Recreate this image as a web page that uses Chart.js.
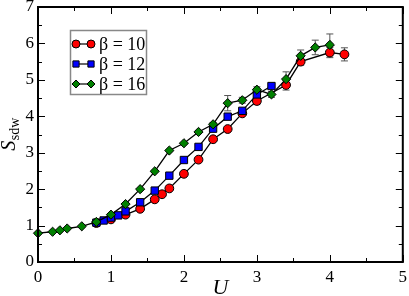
<!DOCTYPE html>
<html>
<head>
<meta charset="utf-8">
<script src="https://cdn.jsdelivr.net/npm/chart.js@4/dist/chart.umd.min.js"></script>
<style>
  html, body { margin: 0; padding: 0; background: #fff; }
</style>
</head>
<body>
<canvas id="chart" width="409" height="296"></canvas>
<script>
// S_sdw vs U for three inverse temperatures

const uBeta10 = [0.8, 1.0, 1.2, 1.4, 1.6, 1.7, 1.8, 2.0, 2.2, 2.4, 2.6, 2.8, 3.0, 3.4, 3.6, 4.0, 4.2];
const sBeta10 = [1.07, 1.17, 1.30, 1.46, 1.72, 1.86, 2.02, 2.42, 2.81, 3.37, 3.65, 4.08, 4.42, 4.86, 5.50, 5.75, 5.70];
const eBeta10 = [0, 0, 0, 0, 0, 0, 0, 0, 0, 0, 0, 0.05, 0.10, 0.14, 0.10, 0.14, 0.18];

const uBeta12 = [0.8, 0.9, 1.0, 1.1, 1.2, 1.4, 1.6, 1.8, 2.0, 2.2, 2.4, 2.6, 2.8, 3.0, 3.2];
const sBeta12 = [1.08, 1.14, 1.22, 1.28, 1.39, 1.64, 1.96, 2.37, 2.80, 3.16, 3.66, 3.99, 4.15, 4.60, 4.83];
const eBeta12 = [0, 0, 0, 0, 0, 0, 0, 0, 0, 0, 0.05, 0.08, 0.05, 0.10, 0.06];

const uBeta16 = [0, 0.2, 0.3, 0.4, 0.6, 0.8, 1.0, 1.2, 1.4, 1.6, 1.8, 2.0, 2.2, 2.4, 2.6, 2.8, 3.0, 3.2, 3.4, 3.6, 3.8, 4.0];
const sBeta16 = [0.79, 0.83, 0.87, 0.92, 0.98, 1.10, 1.30, 1.59, 2.00, 2.49, 3.06, 3.26, 3.57, 3.78, 4.36, 4.44, 4.73, 4.60, 5.02, 5.66, 5.89, 5.96];
const eBeta16 = [0, 0, 0, 0, 0, 0, 0, 0, 0, 0, 0, 0, 0.04, 0.05, 0.21, 0.08, 0.08, 0.08, 0.20, 0.16, 0.20, 0.30];

const xTicks = [0, 1, 2, 3, 4, 5];
const yTicks = [0, 1, 2, 3, 4, 5, 6, 7];
const legendLabels = ['β = 10', 'β = 12', 'β = 16'];

const SERIF = '"Liberation Serif", "DejaVu Serif", serif';

const series = [
  { label: legendLabels[0], u: uBeta10, s: sBeta10, err: eBeta10, color: '#ff0000', style: 'circle', radius: 4.4, order: 3 },
  { label: legendLabels[1], u: uBeta12, s: sBeta12, err: eBeta12, color: '#0000ff', style: 'rect', radius: 5.2, order: 2 },
  { label: legendLabels[2], u: uBeta16, s: sBeta16, err: eBeta16, color: '#008000', style: 'rectRot', radius: 4.6, order: 1 }
];

// --- Plugins ---

const errorBars = {
  id: 'errorBars',
  beforeDatasetsDraw(chart) {
    const { ctx, scales: { x, y } } = chart;
    ctx.save();
    ctx.strokeStyle = '#555';
    ctx.lineWidth = 1;
    series.forEach(s => {
      s.u.forEach((u, i) => {
        const e = s.err[i];
        if (!e) return;
        const px = x.getPixelForValue(u);
        const top = y.getPixelForValue(s.s[i] + e);
        const bot = y.getPixelForValue(s.s[i] - e);
        ctx.beginPath();
        ctx.moveTo(px, top); ctx.lineTo(px, bot);
        ctx.moveTo(px - 3.5, top); ctx.lineTo(px + 3.5, top);
        ctx.moveTo(px - 3.5, bot); ctx.lineTo(px + 3.5, bot);
        ctx.stroke();
      });
    });
    ctx.restore();
  }
};

const frameTicks = {
  id: 'frameTicks',
  afterDatasetsDraw(chart) {
    const { ctx, chartArea: a, scales: { x, y } } = chart;
    ctx.save();
    ctx.strokeStyle = '#000';
    ctx.lineWidth = 1;
    ctx.beginPath();
    for (let v = 0; v <= 5; v += 0.5) {
      const px = Math.round(x.getPixelForValue(v)) + 0.5;
      const len = Number.isInteger(v) ? 7 : 4;
      ctx.moveTo(px, a.bottom); ctx.lineTo(px, a.bottom - len);
      ctx.moveTo(px, a.top); ctx.lineTo(px, a.top + len);
    }
    for (let v = 0; v <= 7; v += 0.5) {
      const py = Math.round(y.getPixelForValue(v)) + 0.5;
      const len = Number.isInteger(v) ? 7 : 4;
      ctx.moveTo(a.left, py); ctx.lineTo(a.left + len, py);
      ctx.moveTo(a.right, py); ctx.lineTo(a.right - len, py);
    }
    ctx.stroke();
    ctx.lineWidth = 2;
    ctx.strokeRect(a.left, a.top, a.right - a.left, a.bottom - a.top);
    ctx.restore();
  }
};

function drawMarker(ctx, style, cx, cy, r, fill) {
  ctx.beginPath();
  if (style === 'circle') {
    ctx.arc(cx, cy, r, 0, Math.PI * 2);
  } else if (style === 'rect') {
    const h = r * Math.SQRT1_2;
    ctx.rect(cx - h, cy - h, 2 * h, 2 * h);
  } else {
    ctx.moveTo(cx, cy - r); ctx.lineTo(cx + r, cy);
    ctx.lineTo(cx, cy + r); ctx.lineTo(cx - r, cy);
    ctx.closePath();
  }
  ctx.fillStyle = fill;
  ctx.fill();
  ctx.stroke();
}

const titlesAndLegend = {
  id: 'titlesAndLegend',
  afterDraw(chart) {
    const { ctx, chartArea: a } = chart;
    ctx.save();
    ctx.fillStyle = '#000';

    // x title
    ctx.font = 'italic 22px ' + SERIF;
    ctx.textAlign = 'center';
    ctx.textBaseline = 'alphabetic';
    ctx.fillText('U', (a.left + a.right) / 2, 294);

    // y title, S with subscript sdw
    ctx.save();
    ctx.translate(15, (a.top + a.bottom) / 2);
    ctx.rotate(-Math.PI / 2);
    ctx.textAlign = 'left';
    ctx.font = 'italic 20px ' + SERIF;
    const wS = ctx.measureText('S').width;
    ctx.font = '14px ' + SERIF;
    const wSub = ctx.measureText('sdw').width;
    const start = -(wS + wSub) / 2;
    ctx.font = 'italic 20px ' + SERIF;
    ctx.fillText('S', start, 0);
    ctx.font = '14px ' + SERIF;
    ctx.fillText('sdw', start + wS + 0.5, 4);
    ctx.restore();

    // legend
    const bx = 70.5, by = 30.5, bw = 76, bh = 64;
    ctx.fillStyle = '#fff';
    ctx.fillRect(bx, by, bw, bh);
    ctx.strokeStyle = '#888';
    ctx.lineWidth = 1.5;
    ctx.strokeRect(bx, by, bw, bh);

    const rows = [44, 64, 84];
    const legendR = [4.0, 4.4, 4.0];
    series.forEach((s, i) => {
      const yy = rows[i];
      ctx.strokeStyle = '#000';
      ctx.lineWidth = 1.2;
      ctx.beginPath();
      ctx.moveTo(76, yy); ctx.lineTo(91, yy);
      ctx.stroke();
      ctx.lineWidth = 1;
      drawMarker(ctx, s.style, 76, yy, legendR[i], s.color);
      drawMarker(ctx, s.style, 91, yy, legendR[i], s.color);
      ctx.fillStyle = '#000';
      ctx.font = '18px ' + SERIF;
      ctx.textAlign = 'left';
      ctx.textBaseline = 'middle';
      ctx.fillText(s.label, 99, yy + 1);
    });
    ctx.restore();
  }
};

// --- Chart ---

const ctx = document.getElementById('chart').getContext('2d');

new Chart(ctx, {
  type: 'scatter',
  data: {
    datasets: series.map(s => ({
      label: s.label,
      data: s.u.map((u, i) => ({ x: u, y: s.s[i] })),
      showLine: true,
      clip: false,
      borderColor: '#000',
      borderWidth: 1.3,
      pointStyle: s.style,
      pointRadius: s.radius,
      pointBackgroundColor: s.color,
      pointBorderColor: '#000',
      pointBorderWidth: 1,
      order: s.order
    }))
  },
  options: {
    responsive: false,
    animation: false,
    devicePixelRatio: 1,
    layout: { padding: { left: 0, right: 5, top: 7, bottom: 0 } },
    plugins: {
      legend: { display: false },
      tooltip: { enabled: false }
    },
    scales: {
      x: {
        type: 'linear',
        min: xTicks[0],
        max: xTicks[xTicks.length - 1],
        grid: { display: false, drawTicks: false },
        border: { display: false },
        ticks: {
          stepSize: 1,
          padding: 5,
          color: '#000',
          font: { family: SERIF, size: 17 },
          callback: v => xTicks.includes(v) ? String(v) : null
        },
        afterFit(s) { s.height = 34; s.paddingLeft = 0; s.paddingRight = 0; }
      },
      y: {
        type: 'linear',
        min: yTicks[0],
        max: yTicks[yTicks.length - 1],
        grid: { display: false, drawTicks: false },
        border: { display: false },
        ticks: {
          stepSize: 1,
          padding: 4,
          color: '#000',
          font: { family: SERIF, size: 17 },
          callback: v => yTicks.includes(v) ? String(v) : null
        },
        afterFit(s) { s.width = 38; s.paddingTop = 0; s.paddingBottom = 0; }
      }
    }
  },
  plugins: [errorBars, frameTicks, titlesAndLegend]
});
</script>
</body>
</html>
